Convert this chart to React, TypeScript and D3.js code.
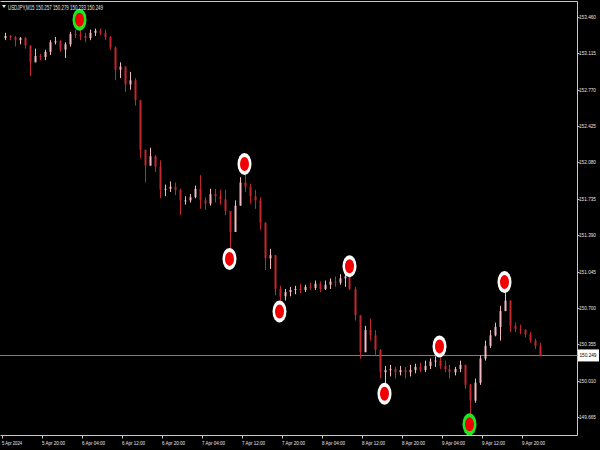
import React from "react";
import * as d3 from "d3";

const symbolTitle = "USDJPY,M15";
const titlePrices = ["150.257", "150.279", "150.233", "150.249"];
const firstOpen = 153.26;
const highs = [153.31,153.29,153.28,153.27,153.27,153.19,153.16,153.11,153.15,153.24,153.27,153.24,153.22,153.32,153.34,153.34,153.31,153.34,153.35,153.35,153.34,153.28,153.18,153.03,152.99,152.94,152.88,152.67,152.20,152.22,152.15,152.10,151.87,151.90,151.89,151.83,151.76,151.78,151.86,151.96,151.75,151.83,151.83,151.82,151.82,151.62,151.72,151.94,151.97,151.88,151.82,151.75,151.51,151.26,151.20,150.91,150.88,150.90,150.91,150.93,150.92,150.94,150.96,150.95,150.96,150.98,151.00,151.02,151.04,151.00,150.90,150.63,150.53,150.60,150.49,150.31,150.15,150.16,150.14,150.15,150.14,150.16,150.17,150.18,150.20,150.22,150.24,150.24,150.20,150.16,150.14,150.20,150.16,149.98,150.03,150.25,150.39,150.49,150.56,150.72,150.85,150.77,150.56,150.54,150.50,150.47,150.41,150.37];
const lows = [153.24,153.24,153.18,153.20,153.16,152.90,153.03,153.05,153.05,153.10,153.20,153.13,153.07,153.18,153.26,153.24,153.22,153.24,153.28,153.29,153.24,153.15,152.86,152.88,152.75,152.77,152.62,152.12,151.89,152.05,151.99,151.74,151.76,151.80,151.77,151.58,151.68,151.70,151.74,151.64,151.63,151.67,151.70,151.68,151.58,151.26,151.42,151.67,151.80,151.69,151.64,151.44,151.06,151.07,150.82,150.76,150.77,150.81,150.83,150.84,150.85,150.87,150.87,150.85,150.87,150.88,150.90,150.92,150.90,150.87,150.58,150.22,150.28,150.39,150.25,150.03,149.98,150.05,150.03,150.06,150.03,150.05,150.08,150.09,150.09,150.12,150.14,150.12,150.09,150.03,150.06,150.09,149.93,149.69,149.80,149.97,150.20,150.32,150.43,150.39,150.67,150.47,150.47,150.45,150.42,150.37,150.31,150.24];
const closes = [153.28,153.27,153.24,153.26,153.19,153.03,153.09,153.08,153.13,153.22,153.23,153.15,153.20,153.30,153.29,153.28,153.26,153.31,153.33,153.31,153.27,153.17,152.96,152.99,152.82,152.86,152.67,152.20,152.05,152.14,152.04,151.82,151.83,151.85,151.82,151.72,151.72,151.75,151.83,151.72,151.69,151.78,151.76,151.73,151.62,151.42,151.67,151.89,151.85,151.76,151.72,151.51,151.17,151.20,150.88,150.81,150.85,150.87,150.88,150.87,150.90,150.89,150.93,150.88,150.92,150.95,150.94,150.98,151.00,150.88,150.63,150.28,150.49,150.44,150.30,150.09,150.11,150.12,150.09,150.11,150.09,150.11,150.14,150.11,150.15,150.19,150.20,150.15,150.12,150.09,150.12,150.16,149.97,149.82,149.99,150.22,150.34,150.44,150.52,150.67,150.77,150.53,150.50,150.49,150.45,150.39,150.34,150.249];
const currentPrice = 150.249;

const priceTicks = [153.46,153.115,152.77,152.425,152.08,151.735,151.39,151.045,150.7,150.355,150.01,149.665];
const timeTickHours = [0,8,16,24,32,40,48,56,64,72,80,88,96,104];
const timeTickLabels = ["5 Apr 2024","5 Apr 20:00","6 Apr 04:00","6 Apr 12:00","6 Apr 20:00","7 Apr 04:00","7 Apr 12:00","7 Apr 20:00","8 Apr 04:00","8 Apr 12:00","8 Apr 20:00","9 Apr 04:00","9 Apr 12:00","9 Apr 20:00"];

// arrow markers: bar index, side (1 = above high, -1 = below low), extreme
const markerBars = [15,45,48,55,69,76,87,93,100];
const markerSides = [1,-1,1,-1,1,-1,1,-1,1];
const markerExtreme = [true,false,false,false,false,false,false,true,false];

export default function App() {
  const W = 600, H = 450;
  const plotRight = 577.5, plotBottom = 435.5, plotTop = 1.5;
  const x = d3.scaleLinear().domain([0, 115.1]).range([2, plotRight]);
  const y = d3.scaleLinear().domain([149.665, 153.46]).range([417, 17]);

  const bars = closes.map((c, i) => {
    const o = i === 0 ? firstOpen : closes[i - 1];
    return { o, h: Math.max(highs[i], o, c), l: Math.min(lows[i], o, c), c, i };
  });

  const font = "'Liberation Sans', Arial, sans-serif";

  return (
    <svg width={W} height={H} style={{ position: "fixed", left: 0, top: 0, background: "#000" }}>
      <rect x={0} y={0} width={W} height={H} fill="#000" />
      {/* frame */}
      <path d={`M0.5,${plotTop} H${plotRight} V${plotBottom} H0.5`} fill="none" stroke="#c8c8c8" strokeWidth={1} />
      {/* current price line */}
      <line x1={0} x2={plotRight} y1={Math.round(y(currentPrice)) + 0.5} y2={Math.round(y(currentPrice)) + 0.5} stroke="#6f8091" strokeWidth={1} />
      {/* candles */}
      {bars.map((b) => {
        const cx = Math.round(x(b.i + 0.5)) + 0.5;
        const up = b.c >= b.o;
        const col = up ? "#f2b9c2" : "#c3262d";
        const top = y(Math.max(b.o, b.c));
        const bot = y(Math.min(b.o, b.c));
        return (
          <g key={b.i}>
            <line x1={cx} x2={cx} y1={y(b.h)} y2={y(b.l)} stroke={col} strokeWidth={1} />
            <rect x={cx - 1} y={top} width={2} height={Math.max(1, bot - top)} fill={col} />
          </g>
        );
      })}
      {/* markers */}
      {markerBars.map((bi, k) => {
        const b = bars[bi];
        const cx = x(bi + 0.5);
        const cy = markerSides[k] > 0 ? y(b.h) - 10 : y(b.l) + 10;
        return (
          <g key={"m" + k}>
            <ellipse cx={cx} cy={cy} rx={7} ry={11} fill={markerExtreme[k] ? "#1ee81e" : "#ffffff"} />
            <ellipse cx={cx} cy={cy} rx={4.5} ry={7} fill="#f00000" />
          </g>
        );
      })}
      {/* price axis */}
      {priceTicks.map((p, k) => (
        <g key={"p" + k}>
          <line x1={plotRight} x2={plotRight + 2} y1={Math.round(y(p)) + 0.5} y2={Math.round(y(p)) + 0.5} stroke="#c8c8c8" />
          <text x={579} y={y(p) + 2} fontSize={5.4} fill="#e6e6e6" fontFamily={font} textLength={17} lengthAdjust="spacingAndGlyphs">
            {p.toFixed(3)}
          </text>
        </g>
      ))}
      {/* current price label */}
      <rect x={578} y={y(currentPrice) - 6} width={21} height={12} fill="#ffffff" />
      <text x={579.5} y={y(currentPrice) + 2} fontSize={5.2} fill="#000" fontFamily={font} textLength={17} lengthAdjust="spacingAndGlyphs">
        {currentPrice.toFixed(3)}
      </text>
      {/* time axis */}
      {timeTickHours.map((t, k) => (
        <g key={"t" + k}>
          <line x1={Math.round(x(t)) + 0.5} x2={Math.round(x(t)) + 0.5} y1={plotBottom} y2={plotBottom + 3} stroke="#c8c8c8" />
          <text x={x(t)} y={444.5} fontSize={6.2} fill="#e6e6e6" fontFamily={font} textLength={k === 0 ? 20 : 23} lengthAdjust="spacingAndGlyphs">
            {timeTickLabels[k]}
          </text>
        </g>
      ))}
      {/* title */}
      <path d="M2,5 L6,5 L4,8 Z" fill="#e6e6e6" />
      <text x={8} y={9.5} fontSize={6.5} fill="#e6e6e6" fontFamily={font} textLength={95} lengthAdjust="spacingAndGlyphs">
        {symbolTitle + " " + titlePrices.join(" ")}
      </text>
    </svg>
  );
}
